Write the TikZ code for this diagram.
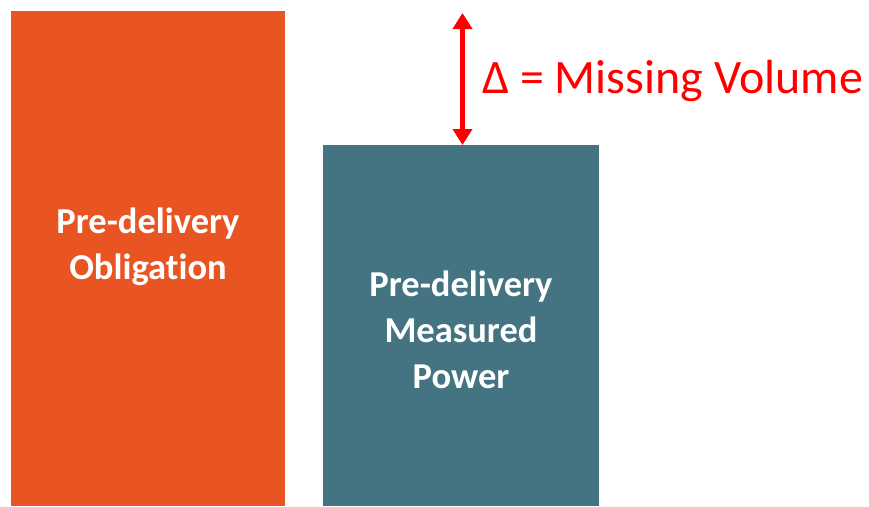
\documentclass[tikz,border=0pt]{standalone}
\usepackage{fontspec}
\setmainfont{Carlito}[Ligatures={NoCommon}]
\usetikzlibrary{arrows.meta}
\definecolor{obl}{RGB}{232,85,35}
\definecolor{meas}{RGB}{68,116,129}
\definecolor{delta}{RGB}{255,0,0}
\tikzset{
  bartext/.style={text=white, font=\fontsize{36.5}{46}\selectfont\bfseries, align=center},
}
\begin{document}
\begin{tikzpicture}[x=1pt,y=-1pt]
\useasboundingbox (0,0) rectangle (869,506);
\fill[obl] (11,11) rectangle (285,506);
\fill[meas] (323,145) rectangle (599,506);
\node[bartext] (t1) at (148,247) {Pre-delivery\\Obligation};
\node[bartext] (t2) at (461,330) {Pre-delivery\\Measured\\Power};
\coordinate (top) at (462.5,13);
\coordinate (bot) at (462.5,145);
\draw[delta, line width=5pt, {Triangle[width=19pt,length=16pt]}-{Triangle[width=19pt,length=16pt]}] (top) -- (bot);
\node[text=delta, font=\fontsize{48}{58}\selectfont, anchor=base west, inner sep=0pt] (lbl) at (482,93) {Δ = Missing Volume};
\end{tikzpicture}
\end{document}
